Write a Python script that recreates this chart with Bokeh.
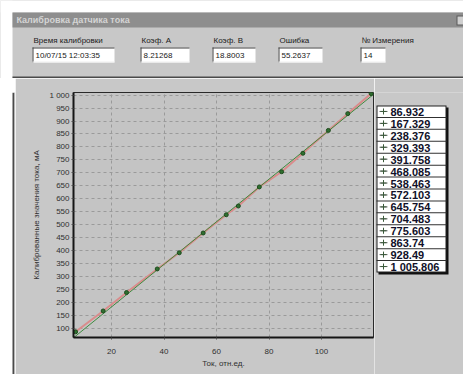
from bokeh.plotting import figure
from bokeh.layouts import column, row
from bokeh.models import FixedTicker, Range1d
from bokeh.core.properties import value
from bokeh.embed import file_html
from bokeh.resources import INLINE

# ---------------- data ----------------
title_text = "Калибровка датчика тока"
field_labels = ["Время калибровки", "Коэф. А", "Коэф. В", "Ошибка", "№ Измерения"]
field_values = ["10/07/15 12:03:35", "8.21268", "18.8003", "55.2637", "14"]
coef_a = 8.21268
coef_b = 18.8003
current_x = [6.3, 16.8, 25.7, 37.4, 45.8, 54.9, 63.7, 68.3, 76.3, 84.8, 92.9, 102.6, 110.0, 118.9]
calibrated_y = [86.932, 167.329, 238.376, 329.393, 391.758, 468.085, 538.463,
                572.103, 645.754, 704.483, 775.603, 863.74, 928.49, 1005.806]
fit_x = [5.5, 119.8]
x_ticks = [20, 40, 60, 80, 100]
y_ticks = [100, 150, 200, 250, 300, 350, 400, 450, 500, 550, 600, 650, 700, 750,
           800, 850, 900, 950, 1000]
x_label = "Ток, отн.ед."
y_label = "Калиброванные значения тока, мА"

FONT = "Liberation Sans"
PANEL = "#c8c8c8"
PLOTBG = "#c4c4c4"
DARK = "#4a4a4a"


def canvas_fig(w, h, x0, y0, bg):
    """A figure whose frame fills its canvas; coordinates are page pixels."""
    f = figure(frame_width=w, frame_height=h, x_range=Range1d(x0, x0 + w), y_range=Range1d(y0 + h, y0),
               output_backend="svg", toolbar_location=None,
               x_axis_location=None, y_axis_location=None,
               min_border_left=0, min_border_right=0, min_border_top=0, min_border_bottom=0,
               background_fill_color=bg, border_fill_color=bg, outline_line_color=None)
    f.grid.visible = False
    return f


def rects(f, l, t, r, b, color):
    f.quad(left=l, right=r, top=t, bottom=b, fill_color=color, line_color=None)


def texts(f, xs, ys, txt, size="8px", color="#202020", style="normal", align="left"):
    f.text(x=xs, y=ys, text=txt, text_font=value(FONT), text_font_size=value(size),
           text_color=color, text_font_style=style, text_align=align, text_baseline="middle")


# ---------------- header (page y 0..78) ----------------
hdr = canvas_fig(463, 78, 0, 0, PANEL)
rects(hdr, [0, 0], [0, 0], [463, 12], [12, 78], "#ffffff")          # outer white margin
rects(hdr, [12], [12], [463], [27], "#8e8e8e")                       # title bar
rects(hdr, [456], [15], [463], [25], "#5a5a5a")                      # close button
rects(hdr, [457], [16], [463], [24], "#cfcfcf")
texts(hdr, [16], [19.5], [title_text], size="9px", color="#d4d4d4", style="bold")

field_lx = [33, 141, 213, 279, 361]
field_rx = [114, 189, 255, 322, 385]
texts(hdr, field_lx, [40] * 5, field_labels)
rects(hdr, [v - 1 for v in field_lx], [47] * 5, field_rx, [62] * 5, "#ffffff")
rects(hdr, [v - 1 for v in field_lx], [47] * 5, field_rx, [48] * 5, "#404040")
rects(hdr, [v - 1 for v in field_lx], [47] * 5, field_lx, [62] * 5, "#404040")
rects(hdr, [v - 1 for v in field_lx], [61] * 5, field_rx, [62] * 5, "#f0f0f0")
texts(hdr, [v + 2 for v in field_lx], [55] * 5, field_values)
rects(hdr, [12], [76], [463], [78], DARK)                            # chart panel top border

# ---------------- left strip (page x 0..15) ----------------
left = canvas_fig(15, 296, 0, 78, "#ffffff")
rects(left, [12], [78], [14], [374], DARK)
rects(left, [14], [78], [15], [374], PANEL)

# ---------------- chart (page x 15..374, y 78..374) ----------------
p = figure(width=359, height=296, output_backend="svg", toolbar_location=None,
           x_range=Range1d(5.5, 119.8), y_range=Range1d(65, 1010),
           min_border_left=58, min_border_right=1, min_border_top=14, min_border_bottom=37,
           background_fill_color=PLOTBG, border_fill_color=PANEL,
           outline_line_color="#2a2a2a", outline_line_width=1)

for ax in (p.xaxis[0], p.yaxis[0]):
    ax.axis_line_width = 2
    ax.axis_line_color = "#151515"
    ax.major_tick_in = 0
    ax.major_tick_out = 2
    ax.major_tick_line_color = "#505050"
    ax.minor_tick_out = 0
    ax.minor_tick_in = 0
    ax.major_label_text_font = FONT
    ax.major_label_text_font_size = "8px"
    ax.major_label_text_color = "#303030"
    ax.axis_label_text_font = FONT
    ax.axis_label_text_font_size = "8px"
    ax.axis_label_text_font_style = "normal"
    ax.axis_label_text_color = "#303030"

p.xaxis.ticker = FixedTicker(ticks=x_ticks)
p.yaxis.ticker = FixedTicker(ticks=y_ticks)
p.yaxis.major_label_overrides = {1000: "1 000"}
p.xaxis.axis_label = x_label
p.yaxis.axis_label = y_label
p.xaxis.major_label_standoff = 9
p.xaxis.axis_label_standoff = 2
p.yaxis.major_label_standoff = 2
p.yaxis.axis_label_standoff = 5

p.grid.grid_line_color = "#9a9a9a"
p.grid.grid_line_dash = "3 3"
p.grid.grid_line_width = 1

p.line(current_x, calibrated_y, line_color="#d98c8c", line_width=2)
fit_y = [coef_a * v + coef_b for v in fit_x]
p.line(fit_x, fit_y, line_color="#3f8a3f", line_width=1)
p.scatter(current_x, calibrated_y, size=4, fill_color="#2f6f2f", line_color="#1d4a1d")

# ---------------- legend (page x 374..463, y 78..374) ----------------
lg = canvas_fig(89, 296, 374, 78, PANEL)
lg_l, lg_t, lg_r, lg_b = 376, 91, 446, 258
n = len(calibrated_y)
row_h = (lg_b - lg_t) / n
rects(lg, [lg_l + 2], [lg_t + 2], [lg_r + 2], [lg_b + 2], "#101010")   # shadow
rects(lg, [lg_l], [lg_t], [lg_r], [lg_b], "#202020")                   # border
rects(lg, [lg_l + 1], [lg_t + 1], [lg_r - 1], [lg_b - 1], "#ffffff")
sep_y = [lg_t + row_h * i for i in range(1, n)]
rects(lg, [lg_l] * (n - 1), [v - 0.5 for v in sep_y], [lg_r] * (n - 1), [v + 0.5 for v in sep_y], "#303030")
row_cy = [lg_t + row_h * (i + 0.5) for i in range(n)]
lg.segment(x0=[379] * n, y0=row_cy, x1=[387] * n, y1=row_cy, line_color="#6a6a6a", line_width=1)
lg.scatter([383] * n, row_cy, marker="cross", size=6, line_color="#3a5a3a", line_width=1)
legend_text = ["{:,}".format(v).replace(",", " ") for v in calibrated_y]
texts(lg, [390] * n, [v + 0.5 for v in row_cy], legend_text, size="11px", color="#101028", style="bold")

layout = column(hdr, row(left, p, lg))
open("out.html", "w").write(file_html(layout, INLINE))
